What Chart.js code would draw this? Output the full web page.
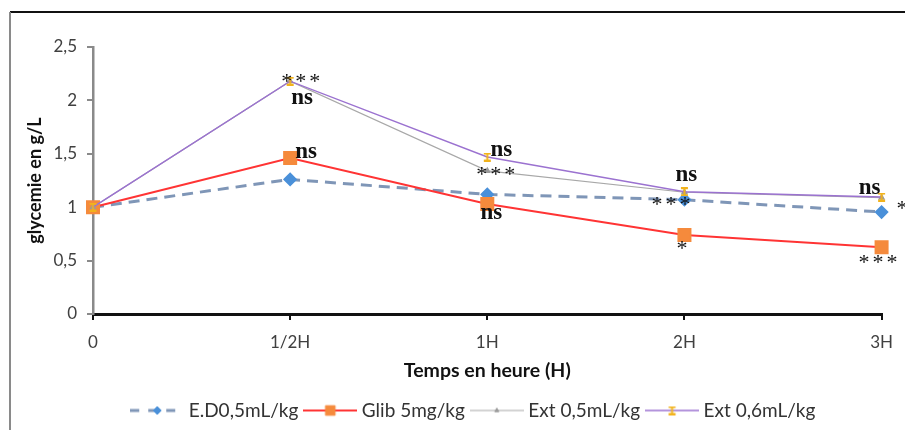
<!DOCTYPE html>
<html>
<head>
<meta charset="utf-8">
<script src="https://cdn.jsdelivr.net/npm/chart.js@4.4.1/dist/chart.umd.min.js"></script>
<style>
  html, body { margin: 0; padding: 0; background: #fff; }
  #wrap { width: 905px; height: 430px; }
</style>
</head>
<body>
<div id="wrap"><canvas id="chart" width="905" height="430"></canvas></div>
<script>
'use strict';

// data
let timeLabels = ['0', '1/2H', '1H', '2H', '3H'];
let seriesNames = ['E.D0,5mL/kg', 'Glib 5mg/kg', 'Ext 0,5mL/kg', 'Ext 0,6mL/kg'];
let edValues = [1.0, 1.26, 1.12, 1.07, 0.955];
let glibValues = [1.0, 1.46, 1.03, 0.74, 0.625];
let ext05Values = [1.0, 2.18, 1.34, 1.14, 1.09];
let ext06Values = [1.0, 2.18, 1.47, 1.145, 1.095];
let yTicks = [0, 0.5, 1, 1.5, 2, 2.5];

// significance marks: text, series index, time index
let noteText = ['***', 'ns', 'ns', 'ns', '***', 'ns', 'ns', '***', '*', 'ns', '***', '*'];
let noteSeries = [3, 3, 1, 3, 2, 1, 3, 0, 1, 3, 1, 0];
let notePoint = [1, 1, 1, 2, 2, 2, 3, 3, 3, 4, 4, 4];

// where each mark sits next to its point (pixels)
let noteShift = [[12, 1], [12, 17], [16, -6], [14, -7], [10, 4], [4, 9],
  [2, -17], [-12, 5], [-1, 14], [-12, -9], [-2, 16], [22, -3]];

let canvasElem = document.getElementById('chart');

function makeMarker() {
  // little yellow I-beam used by Ext 0,6
  let c = document.createElement('canvas');
  c.width = 9; c.height = 9;
  let g = c.getContext('2d');
  g.strokeStyle = '#f2b31c';
  g.lineWidth = 2;
  g.beginPath();
  g.moveTo(1, 1); g.lineTo(8, 1);
  g.moveTo(1, 8); g.lineTo(8, 8);
  g.moveTo(4.5, 1); g.lineTo(4.5, 8);
  g.stroke();
  return c;
}

function legendIcon(ds) {
  let c = document.createElement('canvas');
  c.width = 54; c.height = 16;
  let g = c.getContext('2d');
  g.strokeStyle = ds.borderColor;
  g.lineWidth = ds.borderWidth;
  g.setLineDash(ds.borderDash ? [9, 9] : []);
  g.beginPath();
  g.moveTo(0, 8); g.lineTo(54, 8);
  g.stroke();
  g.setLineDash([]);
  if (ds.pointStyle instanceof HTMLCanvasElement) {
    g.drawImage(ds.pointStyle, 27 - ds.pointStyle.width / 2, 8 - ds.pointStyle.height / 2);
  } else {
    g.fillStyle = ds.pointBackgroundColor;
    g.strokeStyle = ds.pointBorderColor;
    g.lineWidth = 1;
    Chart.helpers.drawPoint(g, {pointStyle: ds.pointStyle, radius: ds.pointRadius * 0.8, rotation: 0, borderWidth: 1}, 27, 8);
  }
  return c;
}

let framePlugin = {
  id: 'frame',
  afterLayout(chart) {
    // legend sits a little left of the plot centre
    chart.legend.left -= 12;
    chart.legend.right -= 12;
  },
  beforeDraw(chart) {
    let ctx = chart.ctx;
    ctx.save();
    ctx.fillStyle = '#fff';
    ctx.fillRect(0, 0, chart.width, chart.height);
    ctx.lineWidth = 2;
    ctx.strokeStyle = '#111';
    ctx.beginPath(); ctx.moveTo(10, 12); ctx.lineTo(chart.width, 12); ctx.stroke();
    ctx.strokeStyle = '#8a8a8a';
    ctx.beginPath(); ctx.moveTo(10, 12); ctx.lineTo(10, chart.height); ctx.stroke();
    ctx.restore();
  }
};

let notesPlugin = {
  id: 'notes',
  afterDatasetsDraw(chart) {
    let ctx = chart.ctx;
    let x = chart.scales.x;
    let y = chart.scales.y;
    ctx.save();
    ctx.fillStyle = '#111';
    ctx.textAlign = 'center';
    ctx.textBaseline = 'middle';
    for (let i = 0; i < noteText.length; i++) {
      let data = chart.data.datasets[noteSeries[i]].data;
      let px = x.getPixelForValue(notePoint[i]) + noteShift[i][0];
      let py = y.getPixelForValue(data[notePoint[i]]) + noteShift[i][1];
      if (noteText[i] === 'ns') {
        ctx.font = 'bold 23px "Liberation Serif"';
        ctx.letterSpacing = '0px';
      } else {
        ctx.font = '22px "Liberation Serif"';
        ctx.letterSpacing = '3px';
      }
      ctx.fillText(noteText[i], px, py);
    }
    ctx.restore();
  }
};

function renderChart() {
  let chartObj = {
    type: 'line',
    data: {
      labels: timeLabels,
      datasets: [{
        label: seriesNames[0],
        data: edValues,
        order: 3,
        borderColor: '#7f96b7',
        borderWidth: 3,
        borderDash: [11, 7],
        pointStyle: 'rectRot',
        pointRadius: 5,
        pointBackgroundColor: '#4a90d9',
        pointBorderColor: '#4a90d9'
      }, {
        label: seriesNames[1],
        data: glibValues,
        order: 2,
        borderColor: '#ff3434',
        borderWidth: 2,
        pointStyle: 'rect',
        pointRadius: 8.5,
        pointBackgroundColor: '#f58a3c',
        pointBorderColor: '#f58a3c'
      }, {
        label: seriesNames[2],
        data: ext05Values,
        order: 1,
        borderColor: '#a8a8a8',
        borderWidth: 1.2,
        pointStyle: 'triangle',
        pointRadius: 3,
        pointBackgroundColor: '#9a9a9a',
        pointBorderColor: '#9a9a9a'
      }, {
        label: seriesNames[3],
        data: ext06Values,
        order: 0,
        borderColor: '#9b72d0',
        borderWidth: 1.4,
        pointStyle: makeMarker(),
        pointRadius: 4
      }]
    },
    options: {
      responsive: false,
      animation: false,
      layout: {
        padding: {top: 47, left: 22, right: 19, bottom: 0}
      },
      scales: {
        x: {
          afterFit(scale) { scale.height = 77; },
          border: {color: '#111', width: 3},
          grid: {drawOnChartArea: false, color: '#111', lineWidth: 2, tickLength: 6},
          ticks: {color: '#404040', padding: 12, font: {family: 'Lato', size: 17}},
          title: {
            display: true,
            text: 'Temps en heure (H)',
            color: '#111',
            padding: {top: 4, bottom: 9},
            font: {family: 'Lato', size: 19.5, weight: 'bold'}
          }
        },
        y: {
          min: 0,
          max: 2.5,
          afterFit(scale) { scale.width = 71; },
          afterBuildTicks(scale) { scale.ticks = yTicks.map(v => ({value: v})); },
          border: {color: '#8a8a8a', width: 2.5},
          grid: {drawOnChartArea: false, color: '#8a8a8a', lineWidth: 2, tickLength: 6},
          ticks: {
            color: '#404040',
            padding: 10,
            font: {family: 'Lato', size: 17},
            callback: v => String(v).replace('.', ',')
          },
          title: {
            display: true,
            text: 'glycemie en g/L',
            color: '#111',
            padding: {top: 2, bottom: 0},
            font: {family: 'Lato', size: 18, weight: 'bold'}
          }
        }
      },
      plugins: {
        legend: {
          position: 'bottom',
          fullSize: false,
          labels: {
            usePointStyle: true,
            pointStyleWidth: 44,
            padding: 10,
            color: '#333',
            font: {family: 'Lato', size: 19},
            generateLabels(chart) {
              return chart.data.datasets.map((ds, i) => ({
                text: ds.label,
                pointStyle: legendIcon(ds),
                datasetIndex: i,
                lineWidth: 0,
                strokeStyle: 'rgba(0,0,0,0)',
                fillStyle: 'rgba(0,0,0,0)',
                fontColor: '#333',
                hidden: false
              }));
            }
          }
        },
        tooltip: {enabled: false}
      }
    },
    plugins: [framePlugin, notesPlugin]
  };

  new Chart(canvasElem, chartObj); //eslint-disable-line
}

renderChart();
</script>
</body>
</html>
